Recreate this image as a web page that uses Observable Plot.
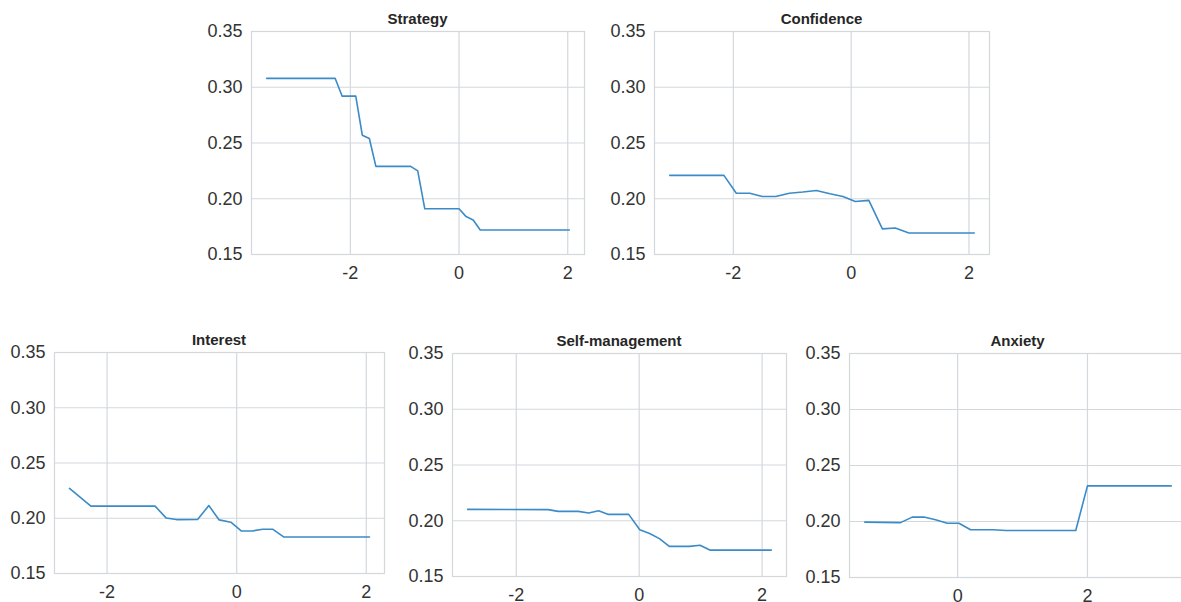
<!DOCTYPE html>
<html>
<head>
<meta charset="utf-8">
<script src="https://cdn.jsdelivr.net/npm/d3@7"></script>
<script src="https://cdn.jsdelivr.net/npm/@observablehq/plot@0.6"></script>
<style>
  html, body { margin: 0; padding: 0; background: #fff; width: 1181px; height: 602px; overflow: hidden; }
  #root { position: relative; width: 1181px; height: 602px; overflow: hidden; font-family: "Liberation Sans", Arial, sans-serif; }
  .panel { position: absolute; }
  .panel svg { max-width: none !important; }
  .ptitle { position: absolute; text-align: center; font-weight: bold; font-size: 15px; line-height: 15px; color: #262626; }
</style>
</head>
<body>
<div id="root"></div>
<script>
// ---- Data ----
const titles = ["Strategy", "Confidence", "Interest", "Self-management", "Anxiety"];

const strategyX = [-3.54, -2.28, -2.15, -1.90, -1.78, -1.65, -1.53, -0.89, -0.76, -0.63, 0.00, 0.13, 0.26, 0.39, 2.03];
const strategyY = [0.308, 0.308, 0.292, 0.292, 0.257, 0.254, 0.229, 0.229, 0.225, 0.191, 0.191, 0.184, 0.181, 0.172, 0.172];

const confidenceX = [-3.08, -2.16, -1.95, -1.72, -1.51, -1.28, -1.05, -0.82, -0.59, -0.36, -0.14, 0.07, 0.30, 0.53, 0.75, 0.98, 2.09];
const confidenceY = [0.221, 0.221, 0.205, 0.205, 0.202, 0.202, 0.205, 0.206, 0.2074, 0.2045, 0.202, 0.1976, 0.1985, 0.173, 0.1738, 0.1693, 0.1693];

const interestX = [-2.58, -2.25, -1.26, -1.09, -0.93, -0.60, -0.43, -0.27, -0.09, 0.07, 0.24, 0.40, 0.56, 0.73, 2.05];
const interestY = [0.227, 0.211, 0.211, 0.2003, 0.1988, 0.199, 0.2115, 0.1985, 0.1964, 0.1885, 0.1885, 0.190, 0.190, 0.183, 0.183];

const selfX = [-2.79, -1.48, -1.32, -0.99, -0.82, -0.66, -0.50, -0.17, 0.01, 0.17, 0.33, 0.49, 0.82, 0.99, 1.15, 2.15];
const selfY = [0.2102, 0.210, 0.2084, 0.2084, 0.207, 0.209, 0.2057, 0.2057, 0.192, 0.1886, 0.184, 0.177, 0.177, 0.178, 0.1737, 0.1737];

const anxietyX = [-1.43, -0.88, -0.70, -0.52, -0.34, -0.16, 0.02, 0.20, 0.55, 0.74, 1.82, 2.00, 3.29];
const anxietyY = [0.1994, 0.199, 0.2039, 0.204, 0.2015, 0.1985, 0.1985, 0.1926, 0.1926, 0.192, 0.192, 0.2318, 0.2318];

const xTickValues = [-2, 0, 2];
const yTickValues = [0.15, 0.20, 0.25, 0.30, 0.35];
const yDomain = [0.15, 0.35];

// ---- Layout (frame boxes in page pixels) ----
const layout = [
  {left: 251, top: 31, w: 333, h: 223},
  {left: 654, top: 31, w: 335, h: 223},
  {left: 54,  top: 352, w: 330, h: 221},
  {left: 452, top: 353, w: 334, h: 223},
  {left: 849, top: 353, w: 337, h: 224}
];

const series = [
  [strategyX, strategyY],
  [confidenceX, confidenceY],
  [interestX, interestY],
  [selfX, selfY],
  [anxietyX, anxietyY]
];

const GRID = "#d3d8dd";
const LINE = "#3a8bc8";
const root = document.getElementById("root");
const ml = 70, mr = 10, mt = 10, mb = 40;

series.forEach(([xs, ys], i) => {
  const L = layout[i];
  const data = xs.map((x, j) => ({x, y: ys[j]}));
  const [x0, x1] = d3.extent(xs);
  const pad = (x1 - x0) * 0.05;
  const xDomain = [x0 - pad, x1 + pad];
  const xt = xTickValues.filter(t => t >= xDomain[0] && t <= xDomain[1]);
  const W = L.w + ml + mr, H = L.h + mt + mb;

  const chart = Plot.plot({
    width: W,
    height: H,
    marginLeft: ml, marginRight: mr, marginTop: mt, marginBottom: mb,
    style: {fontFamily: "'Liberation Sans', Arial, sans-serif", fontSize: "17px", color: "#333", background: "transparent", overflow: "visible"},
    x: {domain: xDomain, label: null},
    y: {domain: yDomain, label: null},
    marks: [
      Plot.gridX(xt, {stroke: GRID, strokeOpacity: 1, strokeWidth: 1.2}),
      Plot.gridY(yTickValues, {stroke: GRID, strokeOpacity: 1, strokeWidth: 1.2}),
      Plot.frame({stroke: GRID, strokeWidth: 1.2}),
      Plot.axisX(xt, {tickSize: 0, tickPadding: 12, tickFormat: d => String(d), fontSize: 18, label: null}),
      Plot.axisY(yTickValues, {tickSize: 0, tickPadding: 9, tickFormat: d3.format(".2f"), fontSize: 18, label: null}),
      Plot.line(data, {x: "x", y: "y", stroke: LINE, strokeWidth: 1.6})
    ]
  });
  chart.style.maxWidth = "none";
  chart.style.width = W + "px";
  chart.style.height = H + "px";
  const div = document.createElement("div");
  div.className = "panel";
  div.style.left = (L.left - ml) + "px";
  div.style.top = (L.top - mt) + "px";
  div.style.width = W + "px";
  div.style.height = H + "px";
  div.appendChild(chart);
  root.appendChild(div);

  const t = document.createElement("div");
  t.className = "ptitle";
  t.style.left = L.left + "px";
  t.style.width = L.w + "px";
  t.style.top = (L.top - 20) + "px";
  t.textContent = titles[i];
  root.appendChild(t);
});
</script>
</body>
</html>
